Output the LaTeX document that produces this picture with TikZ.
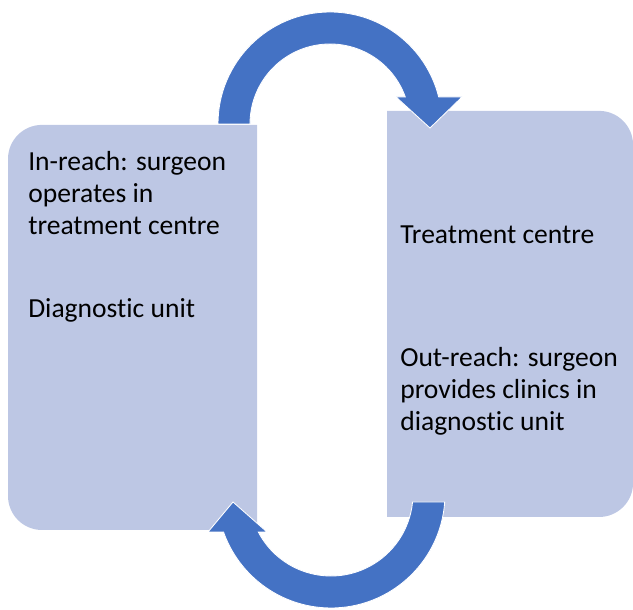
\documentclass[tikz,border=0pt]{standalone}
\usepackage{fontspec}
\setmainfont{Carlito}[Ligatures=NoCommon]
\usepackage{tikz}
\usetikzlibrary{positioning}
\definecolor{pcblue}{RGB}{68,114,196}
\definecolor{pclightblue}{RGB}{189,199,228}
\tikzstyle{sitebox} = [rectangle, inner sep=0, outer sep=0]
\tikzstyle{boxfill} = [fill=pclightblue]
\tikzstyle{bigarrow} = [fill=pcblue, draw=white, line width=0.6pt, line join=miter]
\tikzstyle{sitetext} = [inner sep=0, align=left, font=\fontsize{19.6pt}{22.8pt}\selectfont]

\begin{document}
\begin{tikzpicture}[x=0.025cm, y=0.025cm]
\useasboundingbox (0,0) rectangle (633,610);
% The two sites
\node[sitebox, minimum width=6.225cm, minimum height=10.125cm, anchor=south west] (diag) at (8,80) {};
\node[sitebox, minimum width=6.15cm, minimum height=10.15cm, anchor=south west] (treat) at (387,93) {};
\fill[boxfill] (diag.north east) [rounded corners=0.85cm] -- (diag.north west) -- (diag.south west) [sharp corners] -- (diag.south east) -- cycle;
\fill[boxfill] (treat.north west) [rounded corners=0.85cm] -- (treat.north east) -- (treat.south east) [sharp corners] -- (treat.south west) -- cycle;

% In-reach arrow
\draw[bigarrow] (218,486) arc[start angle=180, end angle=13.95, radius=112]
  -- (462,513) -- (430,482) -- (396,513) -- (405.3,513)
  arc[start angle=19.72, end angle=180, radius=80] -- cycle;
% Out-reach arrow
\draw[bigarrow] (412.6,108) -- (444.7,108) arc[start angle=-4.03, end angle=-160.53, radius=114]
  -- (208,78) -- (233,108) -- (267,78) -- (258.3,78)
  arc[start angle=-152.4, end angle=-5.6, radius=82] -- cycle;

% Labels
\node[sitetext, anchor=north west] (inreach) at (28,459) {In-reach: surgeon\\operates in\\treatment centre};
\node[sitetext, anchor=base west] (diaglabel) at (28,292) {Diagnostic unit};
\node[sitetext, anchor=base west] (treatlabel) at (400,366) {Treatment centre};
\node[sitetext, anchor=north west] (outreach) at (400,263) {Out-reach: surgeon\\provides clinics in\\diagnostic unit};
\end{tikzpicture}
\end{document}
